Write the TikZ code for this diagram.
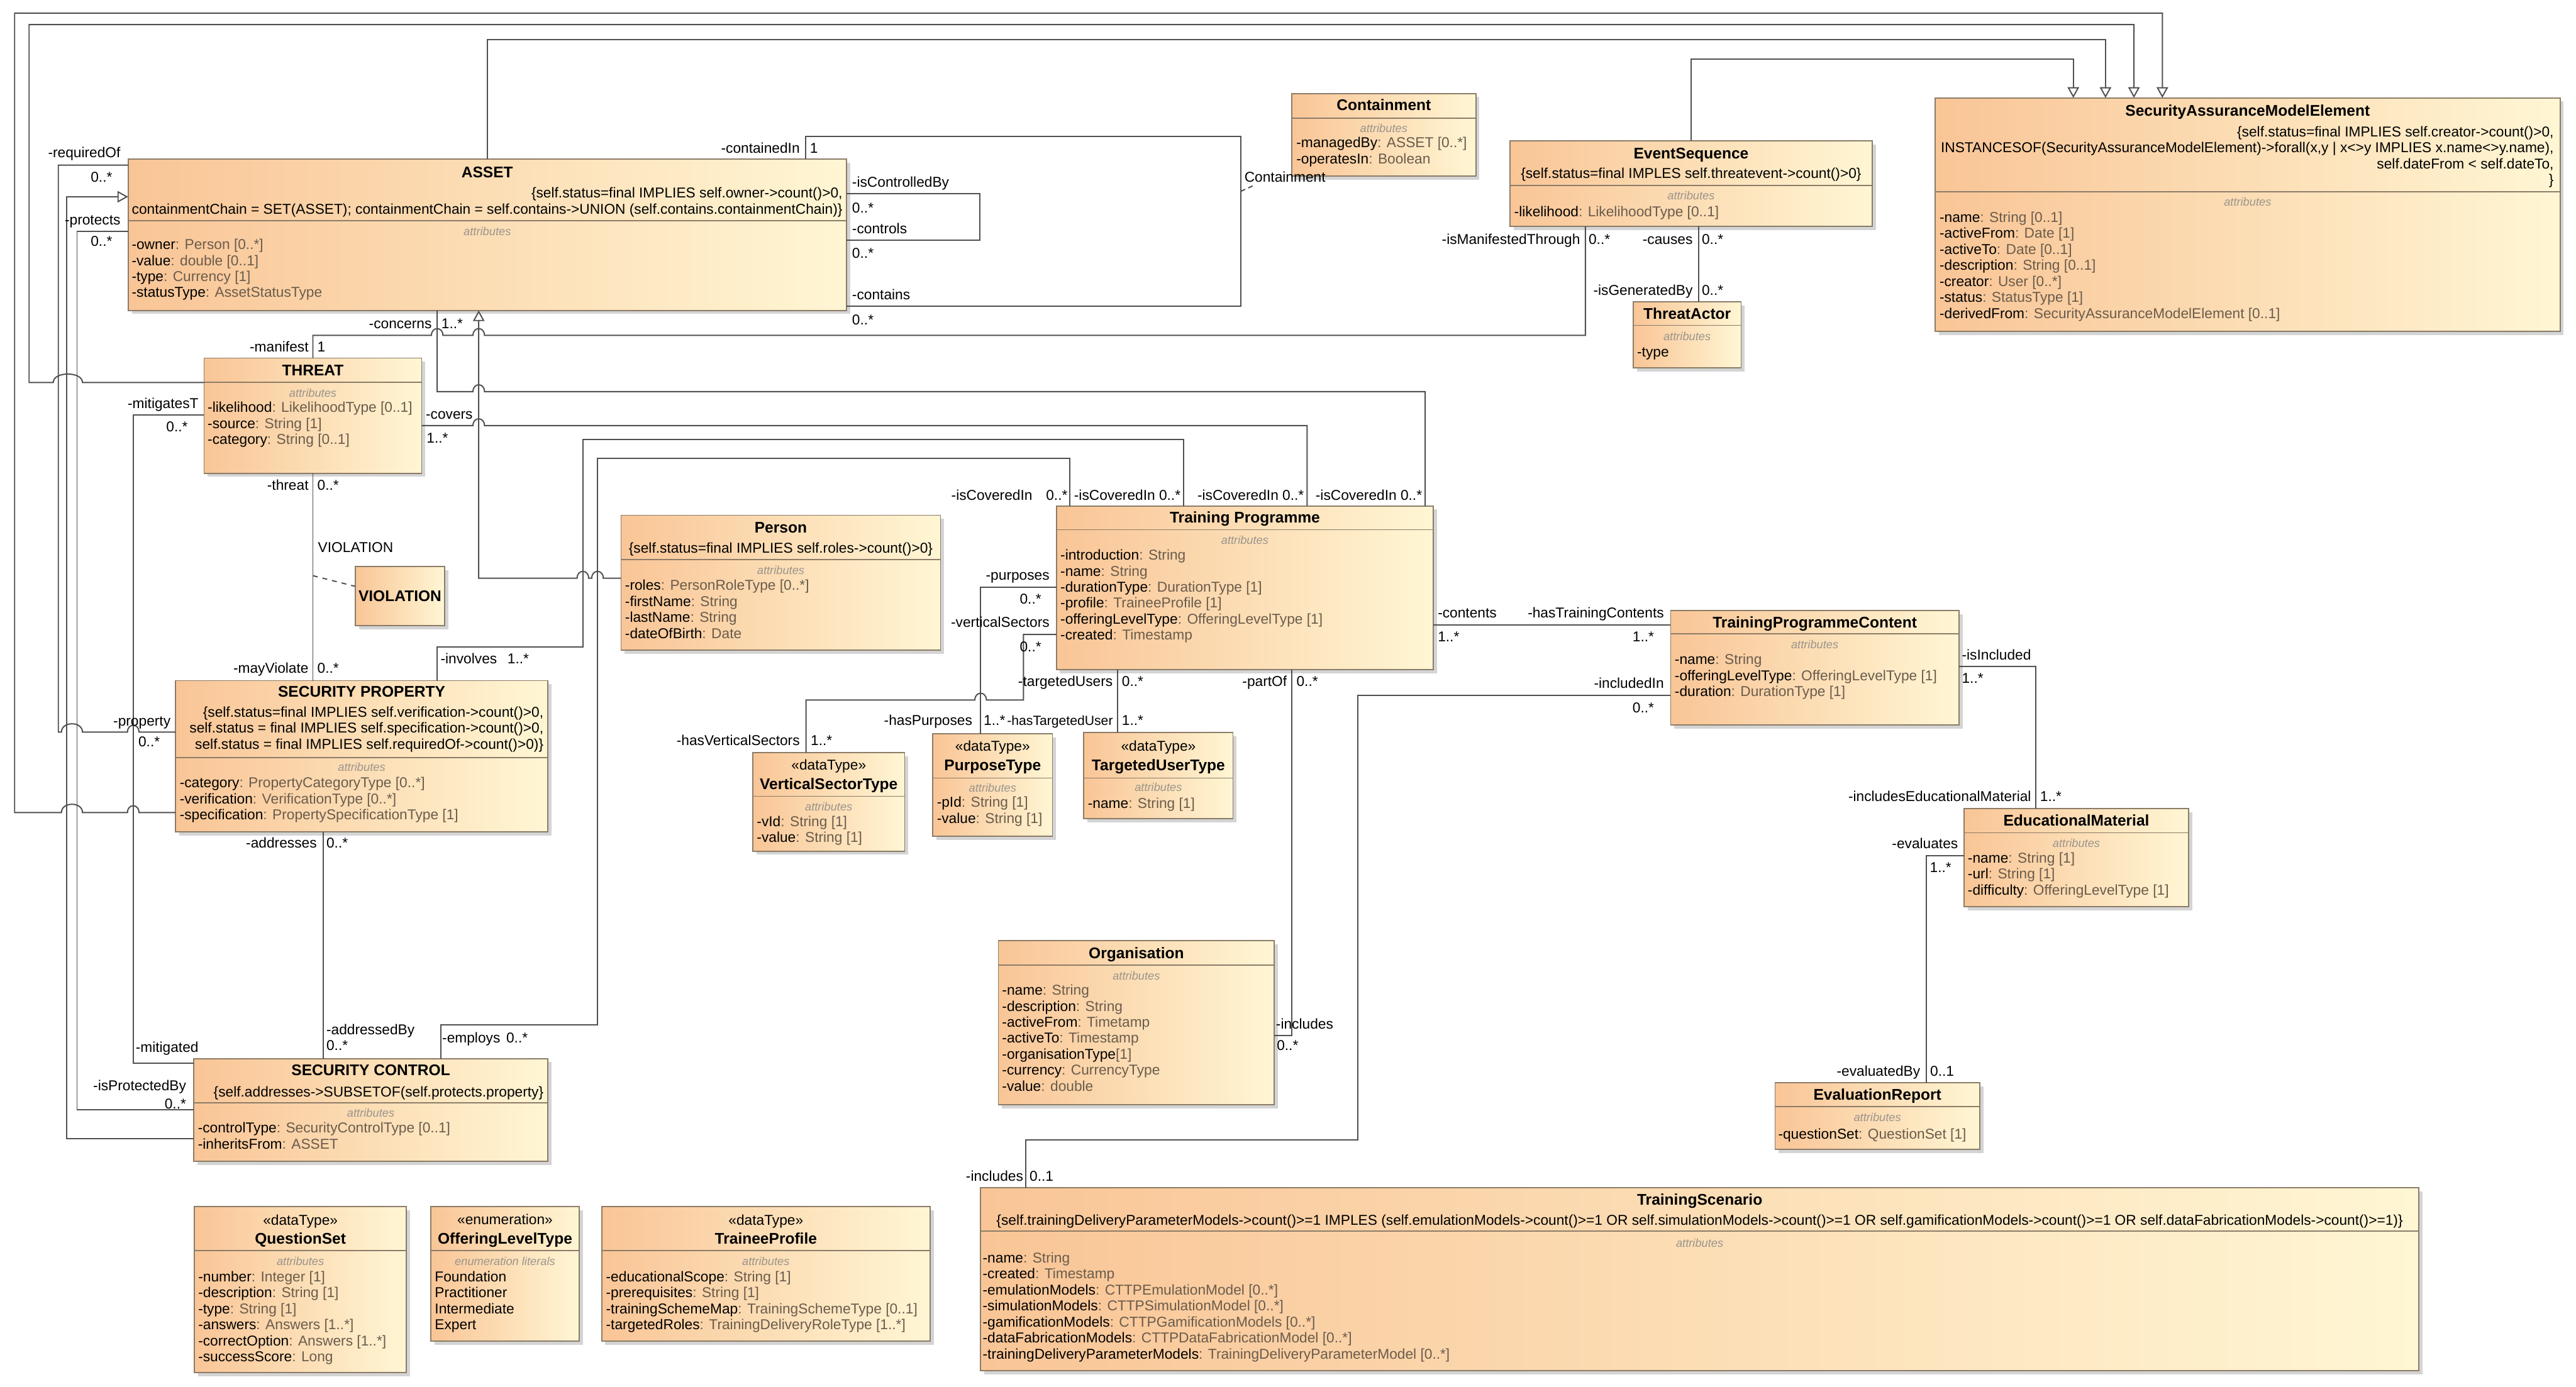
\documentclass[tikz,border=0pt]{standalone}
\usepackage{fontspec}
\setmainfont{Liberation Sans}
\usepackage{xcolor}
\usepackage{tikz}
\usetikzlibrary{arrows.meta}
\definecolor{umlline}{HTML}{505050}
\definecolor{umlbord}{HTML}{8C7C68}
\definecolor{umlleft}{HTML}{F9C596}
\definecolor{umlright}{HTML}{FFF6D4}
\definecolor{umltype}{HTML}{6A5C4C}
\definecolor{umlgrey}{HTML}{9A948C}

% attribute: name black, type lighter
\newcommand{\uat}[2]{#1\textcolor{umltype}{ : #2}}
% line hops (going right / going left)
\newcommand{\hopr}[2]{-- (#1-3.5,#2) .. controls (#1-3.5,#2-5.5) and (#1+3.5,#2-5.5) .. (#1+3.5,#2)}
\newcommand{\hopl}[2]{-- (#1+3.5,#2) .. controls (#1+3.5,#2-5.5) and (#1-3.5,#2-5.5) .. (#1-3.5,#2)}
% class box: name, x, y, width, height, divider y
\newcommand{\umlclass}[6]{%
  \fill[umlshadow] (#2+2.2,#3+2.2) rectangle ++(#4,#5);
  \node[classbox, minimum width=#4pt, minimum height=#5pt] (#1) at (#2,#3) {};
  \draw[umlbord, line width=0.7] (#2,#6) -- ++(#4,0);
}

\begin{document}
\begin{tikzpicture}[x=1pt, y=-1pt, line cap=butt,
  classbox/.style={draw=umlbord, line width=0.7, left color=umlleft, right color=umlright,
    anchor=north west, inner sep=0, outer sep=0},
  umlshadow/.style={fill=black!30, opacity=0.55},
  ttl/.style={font=\bfseries\fontsize{9.4}{10}\selectfont, text height=6.7pt, text depth=0.2pt, inner sep=0},
  ster/.style={font=\fontsize{8.7}{9.75}\selectfont, text height=6.3pt, text depth=0.2pt, inner sep=0},
  cmpt/.style={font=\itshape\fontsize{7}{8}\selectfont, text=umlgrey, text height=5pt, text depth=0.2pt, inner sep=0},
  attrs/.style={font=\fontsize{8.7}{9.75}\selectfont, align=left, anchor=north west, inner sep=0,
    execute at begin node=\strut},
  cons/.style={font=\fontsize{8.7}{9.75}\selectfont, align=right, anchor=north east, inner sep=0,
    execute at begin node=\strut},
  role/.style={font=\fontsize{8.7}{9.75}\selectfont, text height=6.3pt, text depth=0.2pt, inner sep=0},
  assoc/.style={draw=umlline, line width=0.75},
  gen/.style={assoc, -{Triangle[open, length=6.5pt, width=7pt, fill=white]}}]

  \fill[white] (0,0) rectangle (1568,844.3);
  \useasboundingbox (0,0) rectangle (1568,844.3);

  % ASSET
  \umlclass{asset}{78}{97}{437.2}{92}{134.3}
  \node[ttl] (asset-t) at (asset.north |- 0,104.8) {ASSET};
  \node[cons] (asset-c) at (513,114) {\{self.status=final IMPLIES self.owner->count()>0,\\containmentChain = SET(ASSET); containmentChain = self.contains->UNION (self.contains.containmentChain)\}};
  \node[cmpt] (asset-k) at (asset.north |- 0,140.9) {attributes};
  \node[attrs] (asset-a) at (80,145.3) {\uat{-owner}{Person [0..*]}\\\uat{-value}{double [0..1]}\\\uat{-type}{Currency [1]}\\\uat{-statusType}{AssetStatusType}};

  % Containment
  \umlclass{containment}{786.3}{56.9}{112}{50.3}{72}
  \node[ttl] (containment-t) at (containment.north |- 0,63.9) {Containment};
  \node[cmpt] (containment-k) at (containment.north |- 0,78.1) {attributes};
  \node[attrs] (containment-a) at (788.9,83.3) {\uat{-managedBy}{ASSET [0..*]}\\\uat{-operatesIn}{Boolean}};

  % EventSequence
  \umlclass{evseq}{919.1}{85.8}{220.5}{52.1}{113}
  \node[ttl] (evseq-t) at (evseq.north |- 0,93.4) {EventSequence};
  \node[role] (evseq-c) at (evseq.north |- 0,105.6) {\{self.status=final IMPLES self.threatevent->count()>0\}};
  \node[cmpt] (evseq-k) at (evseq.north |- 0,119.3) {attributes};
  \node[attrs] (evseq-a) at (921.5,124.9) {\uat{-likelihood}{LikelihoodType [0..1]}};

  % ThreatActor
  \umlclass{tactor}{994.1}{183.7}{65.7}{40.3}{198.1}
  \node[ttl] (tactor-t) at (tactor.north |- 0,190.9) {ThreatActor};
  \node[cmpt] (tactor-k) at (tactor.north |- 0,204.8) {attributes};
  \node[attrs] (tactor-a) at (996.3,210.4) {-type};

  % SecurityAssuranceModelElement
  \umlclass{same}{1177.9}{59.6}{380.4}{142.1}{116.8}
  \node[ttl] (same-t) at (same.north |- 0,67.4) {SecurityAssuranceModelElement};
  \node[cons] (same-c) at (1554.6,76.7) {\{self.status=final IMPLIES self.creator->count()>0,\\INSTANCESOF(SecurityAssuranceModelElement)->forall(x,y | x<>y IMPLIES x.name<>y.name),\\self.dateFrom < self.dateTo,\\\}};
  \node[cmpt] (same-k) at (same.north |- 0,123.1) {attributes};
  \node[attrs] (same-a) at (1180.4,128.7) {\uat{-name}{String [0..1]}\\\uat{-activeFrom}{Date [1]}\\\uat{-activeTo}{Date [0..1]}\\\uat{-description}{String [0..1]}\\\uat{-creator}{User [0..*]}\\\uat{-status}{StatusType [1]}\\\uat{-derivedFrom}{SecurityAssuranceModelElement [0..1]}};

  % THREAT
  \umlclass{threat}{124.2}{218}{132.5}{70.1}{232.9}
  \node[ttl] (threat-t) at (threat.north |- 0,225.5) {THREAT};
  \node[cmpt] (threat-k) at (threat.north |- 0,239.5) {attributes};
  \node[attrs] (threat-a) at (126.2,244.5) {\uat{-likelihood}{LikelihoodType [0..1]}\\\uat{-source}{String [1]}\\\uat{-category}{String [0..1]}};

  % VIOLATION
  \fill[umlshadow] (218.4,347.1) rectangle ++(54.5,36.1);
  \node[classbox, minimum width=54.5pt, minimum height=36.1pt] (violation) at (216.2,344.9) {};
  \node[ttl] (violation-t) at (violation.center) {VIOLATION};

  % Person
  \umlclass{person}{378}{313.7}{194.5}{82.1}{340.8}
  \node[ttl] (person-t) at (person.north |- 0,321) {Person};
  \node[role] (person-c) at (person.north |- 0,333.5) {\{self.status=final IMPLIES self.roles->count()>0\}};
  \node[cmpt] (person-k) at (person.north |- 0,347.2) {attributes};
  \node[attrs] (person-a) at (380.3,352.8) {\uat{-roles}{PersonRoleType [0..*]}\\\uat{-firstName}{String}\\\uat{-lastName}{String}\\\uat{-dateOfBirth}{Date}};

  % Training Programme
  \umlclass{tprog}{643}{308}{229.5}{99.7}{322.5}
  \node[ttl] (tprog-t) at (tprog.north |- 0,315) {Training Programme};
  \node[cmpt] (tprog-k) at (tprog.north |- 0,329) {attributes};
  \node[attrs] (tprog-a) at (645.3,334.4) {\uat{-introduction}{String}\\\uat{-name}{String}\\\uat{-durationType}{DurationType [1]}\\\uat{-profile}{TraineeProfile [1]}\\\uat{-offeringLevelType}{OfferingLevelType [1]}\\\uat{-created}{Timestamp}};

  % VerticalSectorType
  \umlclass{vsector}{458.2}{458.2}{92.5}{60}{484.8}
  \node[ster] (vsector-s) at (vsector.north |- 0,465.8) {«dataType»};
  \node[ttl] (vsector-t) at (vsector.north |- 0,477.2) {VerticalSectorType};
  \node[cmpt] (vsector-k) at (vsector.north |- 0,491.3) {attributes};
  \node[attrs] (vsector-a) at (460.5,496.7) {\uat{-vId}{String [1]}\\\uat{-value}{String [1]}};

  % PurposeType
  \umlclass{purpose}{567.8}{446.8}{72.8}{62.3}{473.7}
  \node[ster] (purpose-s) at (purpose.north |- 0,454.1) {«dataType»};
  \node[ttl] (purpose-t) at (purpose.north |- 0,465.8) {PurposeType};
  \node[cmpt] (purpose-k) at (purpose.north |- 0,479.8) {attributes};
  \node[attrs] (purpose-a) at (570.1,484.9) {\uat{-pId}{String [1]}\\\uat{-value}{String [1]}};

  % TargetedUserType
  \umlclass{tuser}{659.7}{446}{90.8}{52.5}{473.7}
  \node[ster] (tuser-s) at (tuser.north |- 0,454.1) {«dataType»};
  \node[ttl] (tuser-t) at (tuser.north |- 0,465.8) {TargetedUserType};
  \node[cmpt] (tuser-k) at (tuser.north |- 0,479.5) {attributes};
  \node[attrs] (tuser-a) at (662,484.9) {\uat{-name}{String [1]}};

  % TrainingProgrammeContent
  \umlclass{tpcontent}{1016.9}{371.7}{175.5}{69.8}{385.9}
  \node[ttl] (tpcontent-t) at (tpcontent.north |- 0,378.9) {TrainingProgrammeContent};
  \node[cmpt] (tpcontent-k) at (tpcontent.north |- 0,392.5) {attributes};
  \node[attrs] (tpcontent-a) at (1019.2,398) {\uat{-name}{String}\\\uat{-offeringLevelType}{OfferingLevelType [1]}\\\uat{-duration}{DurationType [1]}};

  % EducationalMaterial
  \umlclass{edumat}{1195.5}{492.3}{136.7}{59.8}{507}
  \node[ttl] (edumat-t) at (edumat.north |- 0,499.7) {EducationalMaterial};
  \node[cmpt] (edumat-k) at (edumat.north |- 0,513.6) {attributes};
  \node[attrs] (edumat-a) at (1197.6,518.9) {\uat{-name}{String [1]}\\\uat{-url}{String [1]}\\\uat{-difficulty}{OfferingLevelType [1]}};

  % Organisation
  \umlclass{org}{607.7}{572.6}{168}{100}{587.7}
  \node[ttl] (org-t) at (org.north |- 0,580.5) {Organisation};
  \node[cmpt] (org-k) at (org.north |- 0,594.3) {attributes};
  \node[attrs] (org-a) at (609.8,599.3) {\uat{-name}{String}\\\uat{-description}{String}\\\uat{-activeFrom}{Timetamp}\\\uat{-activeTo}{Timestamp}\\-organisationType\textcolor{umltype}{ [1]}\\\uat{-currency}{CurrencyType}\\\uat{-value}{double}};

  % EvaluationReport
  \umlclass{evreport}{1080.5}{659.1}{124.5}{40.6}{673.8}
  \node[ttl] (evreport-t) at (evreport.north |- 0,666.6) {EvaluationReport};
  \node[cmpt] (evreport-k) at (evreport.north |- 0,680.4) {attributes};
  \node[attrs] (evreport-a) at (1082.2,686.6) {\uat{-questionSet}{QuestionSet [1]}};

  % SECURITY PROPERTY
  \umlclass{secprop}{106.9}{414.4}{226.5}{92}{461.4}
  \node[ttl] (secprop-t) at (secprop.north |- 0,421.2) {SECURITY PROPERTY};
  \node[cons] (secprop-c) at (331,430) {\{self.status=final IMPLIES self.verification->count()>0,\\self.status = final IMPLIES self.specification->count()>0,\\self.status = final IMPLIES self.requiredOf->count()>0)\}};
  \node[cmpt] (secprop-k) at (secprop.north |- 0,467.3) {attributes};
  \node[attrs] (secprop-a) at (109.2,473) {\uat{-category}{PropertyCategoryType [0..*]}\\\uat{-verification}{VerificationType [0..*]}\\\uat{-specification}{PropertySpecificationType [1]}};

  % SECURITY CONTROL
  \umlclass{secctrl}{118}{644.5}{215.4}{62.5}{671.3}
  \node[ttl] (secctrl-t) at (secctrl.north |- 0,651.7) {SECURITY CONTROL};
  \node[role, anchor=east] (secctrl-c) at (331,664.6) {\{self.addresses->SUBSETOF(self.protects.property\}};
  \node[cmpt] (secctrl-k) at (secctrl.north |- 0,677.8) {attributes};
  \node[attrs] (secctrl-a) at (120.3,683.2) {\uat{-controlType}{SecurityControlType [0..1]}\\\uat{-inheritsFrom}{ASSET}};

  % QuestionSet
  \umlclass{qset}{118.3}{734.6}{129.1}{101.1}{761.4}
  \node[ster] (qset-s) at (qset.north |- 0,742.8) {«dataType»};
  \node[ttl] (qset-t) at (qset.north |- 0,754.1) {QuestionSet};
  \node[cmpt] (qset-k) at (qset.north |- 0,768) {attributes};
  \node[attrs] (qset-a) at (120.5,773.7) {\uat{-number}{Integer [1]}\\\uat{-description}{String [1]}\\\uat{-type}{String [1]}\\\uat{-answers}{Answers [1..*]}\\\uat{-correctOption}{Answers [1..*]}\\\uat{-successScore}{Long}};

  % OfferingLevelType
  \umlclass{offering}{262.3}{734.6}{90.2}{81.9}{761.4}
  \node[ster] (offering-s) at (offering.north |- 0,742.4) {«enumeration»};
  \node[ttl] (offering-t) at (offering.north |- 0,754.1) {OfferingLevelType};
  \node[cmpt] (offering-k) at (offering.north |- 0,768) {enumeration literals};
  \node[attrs] (offering-a) at (264.5,773.7) {Foundation\\Practitioner\\Intermediate\\Expert};

  % TraineeProfile
  \umlclass{trainee}{366.2}{734.6}{200}{81.9}{761.4}
  \node[ster] (trainee-s) at (trainee.north |- 0,742.8) {«dataType»};
  \node[ttl] (trainee-t) at (trainee.north |- 0,754.1) {TraineeProfile};
  \node[cmpt] (trainee-k) at (trainee.north |- 0,768) {attributes};
  \node[attrs] (trainee-a) at (368.7,773.7) {\uat{-educationalScope}{String [1]}\\\uat{-prerequisites}{String [1]}\\\uat{-trainingSchemeMap}{TrainingSchemeType [0..1]}\\\uat{-targetedRoles}{TrainingDeliveryRoleType [1..*]}};

  % TrainingScenario
  \umlclass{tscen}{596.8}{723.2}{875.6}{111.3}{749.6}
  \node[ttl] (tscen-t) at (tscen.north |- 0,730.4) {TrainingScenario};
  \node[role] (tscen-c) at (tscen.north |- 0,743) {\{self.trainingDeliveryParameterModels->count()>=1 IMPLES (self.emulationModels->count()>=1 OR self.simulationModels->count()>=1 OR self.gamificationModels->count()>=1 OR self.dataFabricationModels->count()>=1)\}};
  \node[cmpt] (tscen-k) at (tscen.north |- 0,756.9) {attributes};
  \node[attrs] (tscen-a) at (598,762.3) {\uat{-name}{String}\\\uat{-created}{Timestamp}\\\uat{-emulationModels}{CTTPEmulationModel [0..*]}\\\uat{-simulationModels}{CTTPSimulationModel [0..*]}\\\uat{-gamificationModels}{CTTPGamificationModels [0..*]}\\\uat{-dataFabricationModels}{CTTPDataFabricationModel [0..*]}\\\uat{-trainingDeliveryParameterModels}{TrainingDeliveryParameterModel [0..*]}};

  % generalizations into SecurityAssuranceModelElement
  \draw[gen] (evseq.north) |- (1262,36) -- (1262,0 |- same.north);
  \draw[gen] (296.5,0 |- asset.north) |- (1281.6,24) -- (1281.6,0 |- same.north);
  \draw[gen] (threat.west |- 0,232.9) -- (50.2,232.9) .. controls (50.2,226) and (32.4,226) .. (32.4,232.9) -- (17.7,232.9) |- (1298.9,15) -- (1298.9,0 |- same.north);
  \draw[gen] (secprop.west |- 0,494.7) \hopl{81.1}{494.7} -- (50.2,494.7) .. controls (50.2,488) and (37.4,488) .. (37.4,494.7) -- (8.9,494.7) |- (1316.2,8) -- (1316.2,0 |- same.north);

  % left side
  \draw[assoc] (asset.west |- 0,100.5) -| (35.5,445.7) -- (37.4,445.7) .. controls (37.4,439) and (50.2,439) .. (50.2,445.7) \hopr{81.1}{445.7} -- (secprop.west |- 0,445.7);
  \draw[assoc] (asset.west |- 0,140.9) -| (46.9,675.8) -- (secctrl.west |- 0,675.8);
  \draw[gen] (secctrl.west |- 0,693.4) -| (40.5,119.8) -- (asset.west |- 0,119.8);
  \draw[assoc] (threat.west |- 0,252.6) -| (81.1,647.4) -- (secctrl.west |- 0,647.4);
  \draw[assoc] (threat.south) -- (threat.south |- secprop.north);
  \draw[assoc, dash pattern=on 3pt off 3pt] (190.45,350.5) -- (violation.west |- 0,357);
  \draw[assoc] (196.8,0 |- secprop.south) -- (196.8,0 |- secctrl.north);

  % ASSET and THREAT to the right
  \draw[assoc] (threat.north) -- (threat.north |- 0,204.2) \hopr{266.1}{204.2} \hopr{291.4}{204.2} -- (965,204.2) -- (965,0 |- evseq.south);
  \draw[assoc] (1034,0 |- evseq.south) -- (1034,0 |- tactor.north);
  \draw[assoc] (490.4,0 |- asset.north) |- (755.2,83.1) |- (asset.east |- 0,186.4);
  \coordinate (cmtick) at (764,112.5);
  \draw[assoc, dash pattern=on 3pt off 2pt] (755.2,116.5) -- (cmtick);
  \draw[assoc] (asset.east |- 0,117.8) -| (596.3,146.3) -- (asset.east |- 0,146.3);
  \draw[assoc] (266.1,0 |- asset.south) -- (266.1,238.4) \hopr{291.4}{238.4} -- (867.5,238.4) -- (867.5,0 |- tprog.north);
  \draw[assoc] (threat.east |- 0,259.1) \hopr{291.4}{259.1} -- (795.6,259.1) -- (795.6,0 |- tprog.north);
  \draw[assoc] (266.1,0 |- secprop.north) |- (354.8,393.9) -- (354.8,267.5) -| (720.5,0 |- tprog.north);
  \draw[assoc] (268.2,0 |- secctrl.north) |- (363.7,623.9) -- (363.7,279.1) -| (651.3,0 |- tprog.north);
  \draw[gen] (person.west |- 0,352) \hopl{363.7}{352} \hopl{354.8}{352} -- (291.4,352) -- (291.4,0 |- asset.south);

  % Training Programme
  \draw[assoc] (tprog.west |- 0,357.4) -| (596.9,0 |- purpose.north);
  \draw[assoc] (tprog.west |- 0,386.3) -| (623,426.2) \hopl{596.9}{426.2} -- (490.6,426.2) -- (490.6,0 |- vsector.north);
  \draw[assoc] (680.4,0 |- tprog.south) -- (680.4,0 |- tuser.north);
  \draw[assoc] (786.2,0 |- tprog.south) |- (org.east |- 0,630.4);
  \draw[assoc] (tprog.east |- 0,380.5) -- (tpcontent.west |- 0,380.5);
  \draw[assoc] (tpcontent.west |- 0,423.2) -| (826.3,694) -| (624.5,0 |- tscen.north);
  \draw[assoc] (tpcontent.east |- 0,405.8) -| (1239.2,0 |- edumat.north);
  \draw[assoc] (edumat.west |- 0,521) -| (1172.5,0 |- evreport.north);

  % role names and multiplicities
  \node[role, anchor=east] (r-reqof) at (73.5,92.7) {-requiredOf};
  \node[role, anchor=east] (m-reqof) at (68.5,107.8) {0..*};
  \node[role, anchor=east] (r-protects) at (73.5,133.7) {-protects};
  \node[role, anchor=east] (m-protects) at (68.5,147) {0..*};
  \node[role, anchor=east] (r-contin) at (487,90.3) {-containedIn};
  \node[role, anchor=west] (m-contin) at (492.8,90.3) {1};
  \node[role, anchor=west] (r-isctrl) at (518.5,110.8) {-isControlledBy};
  \node[role, anchor=west] (m-isctrl) at (518.5,126.4) {0..*};
  \node[role, anchor=west] (r-controls) at (518.5,139.1) {-controls};
  \node[role, anchor=west] (m-controls) at (518.5,154.1) {0..*};
  \node[role, anchor=west] (r-contains) at (518.5,179.4) {-contains};
  \node[role, anchor=west] (m-contains) at (518.5,194.5) {0..*};
  \node[role, anchor=west] (cls-cont) at (757.3,107.8) {Containment};
  \node[role, anchor=east] (r-concerns) at (263,196.9) {-concerns};
  \node[role, anchor=west] (m-concerns) at (268.5,196.9) {1..*};
  \node[role, anchor=east] (r-manifest) at (188,211.1) {-manifest};
  \node[role, anchor=west] (m-manifest) at (193,211.1) {1};
  \node[role, anchor=east] (r-mitT) at (121,245.5) {-mitigatesT};
  \node[role, anchor=east] (m-mitT) at (114.5,259.7) {0..*};
  \node[role, anchor=west] (r-covers) at (259,252) {-covers};
  \node[role, anchor=west] (m-covers) at (259.5,266.8) {1..*};
  \node[role, anchor=east] (r-threat) at (188,295.2) {-threat};
  \node[role, anchor=west] (m-threat) at (193,295.2) {0..*};
  \node[role, anchor=west] (cls-viol) at (193.4,333.3) {VIOLATION};
  \node[role, anchor=east] (r-mayviol) at (188,406.6) {-mayViolate};
  \node[role, anchor=west] (m-mayviol) at (193,406.6) {0..*};
  \node[role, anchor=west] (r-involves) at (268,401) {-involves};
  \node[role, anchor=west] (m-involves) at (308.7,401) {1..*};
  \node[role, anchor=east] (r-property) at (104,438.9) {-property};
  \node[role, anchor=east] (m-property) at (97.5,451.6) {0..*};
  \node[role, anchor=east] (r-addresses) at (193,513.3) {-addresses};
  \node[role, anchor=west] (m-addresses) at (198.5,513.3) {0..*};
  \node[role, anchor=west] (r-addrby) at (198.5,626.8) {-addressedBy};
  \node[role, anchor=west] (m-addrby) at (198.5,636.6) {0..*};
  \node[role, anchor=west] (r-employs) at (269,631.8) {-employs};
  \node[role, anchor=west] (m-employs) at (308,631.8) {0..*};
  \node[role, anchor=east] (r-mitig) at (121,637.6) {-mitigated};
  \node[role, anchor=east] (r-isprot) at (113.5,661.1) {-isProtectedBy};
  \node[role, anchor=east] (m-isprot) at (113.5,671.9) {0..*};
  \node[role, anchor=east] (r-cov1) at (628.6,301.3) {-isCoveredIn};
  \node[role, anchor=east] (m-cov1) at (650,301.3) {0..*};
  \foreach \cx/\cn in {720.5/2, 795.6/3, 867.5/4}
    \node[role, anchor=east] (r-cov\cn) at (\cx-1.7,301.3) {-isCoveredIn 0..*};
  \node[role, anchor=east] (r-purposes) at (639,350.2) {-purposes};
  \node[role, anchor=east] (m-purposes) at (634,364.7) {0..*};
  \node[role, anchor=east] (r-vsect) at (639,378.7) {-verticalSectors};
  \node[role, anchor=east] (m-vsect) at (634,393.6) {0..*};
  \node[role, anchor=east] (r-tusers) at (677.5,414.8) {-targetedUsers};
  \node[role, anchor=west] (m-tusers) at (682.7,414.8) {0..*};
  \node[role, anchor=east] (r-partof) at (783.5,414.8) {-partOf};
  \node[role, anchor=west] (m-partof) at (789,414.8) {0..*};
  \node[role, anchor=east] (r-haspurp) at (592,438.4) {-hasPurposes};
  \node[role, anchor=west] (m-haspurp) at (598.6,438.4) {1..*};
  \node[role, anchor=east, font=\fontsize{8.1}{9.75}\selectfont] (r-hastu) at (677.6,438.4) {-hasTargetedUser};
  \node[role, anchor=west] (m-hastu) at (682.7,438.4) {1..*};
  \node[role, anchor=east] (r-hasvs) at (487,450.6) {-hasVerticalSectors};
  \node[role, anchor=west] (m-hasvs) at (493.3,450.6) {1..*};
  \node[role, anchor=west] (r-contents) at (875,373) {-contents};
  \node[role, anchor=west] (m-contents) at (875,387.5) {1..*};
  \node[role, anchor=east] (r-hastc) at (1013,373) {-hasTrainingContents};
  \node[role, anchor=east] (m-hastc) at (1007,387.5) {1..*};
  \node[role, anchor=east] (r-inclin) at (1013,416) {-includedIn};
  \node[role, anchor=east] (m-inclin) at (1007,430.8) {0..*};
  \node[role, anchor=west] (r-isincl) at (1194,398.6) {-isIncluded};
  \node[role, anchor=west] (m-isincl) at (1194,413) {1..*};
  \node[role, anchor=east] (r-inclem) at (1236.5,484.7) {-includesEducationalMaterial};
  \node[role, anchor=west] (m-inclem) at (1241.6,484.7) {1..*};
  \node[role, anchor=east] (r-evals) at (1192,513.6) {-evaluates};
  \node[role, anchor=west] (m-evals) at (1174.5,528) {1..*};
  \node[role, anchor=east] (r-evalby) at (1169,652.1) {-evaluatedBy};
  \node[role, anchor=west] (m-evalby) at (1174.7,652.1) {0..1};
  \node[role, anchor=west] (r-orgincl) at (776.5,623.6) {-includes};
  \node[role, anchor=west] (m-orgincl) at (777,636.5) {0..*};
  \node[role, anchor=east] (r-tsincl) at (623,715.9) {-includes};
  \node[role, anchor=west] (m-tsincl) at (626.5,715.9) {0..1};
  \node[role, anchor=east] (r-ismanif) at (962,145.7) {-isManifestedThrough};
  \node[role, anchor=west] (m-ismanif) at (966.8,145.7) {0..*};
  \node[role, anchor=east] (r-causes) at (1030.5,145.7) {-causes};
  \node[role, anchor=west] (m-causes) at (1035.7,145.7) {0..*};
  \node[role, anchor=east] (r-isgen) at (1030.5,176.5) {-isGeneratedBy};
  \node[role, anchor=west] (m-isgen) at (1035.7,176.5) {0..*};
\end{tikzpicture}
\end{document}
